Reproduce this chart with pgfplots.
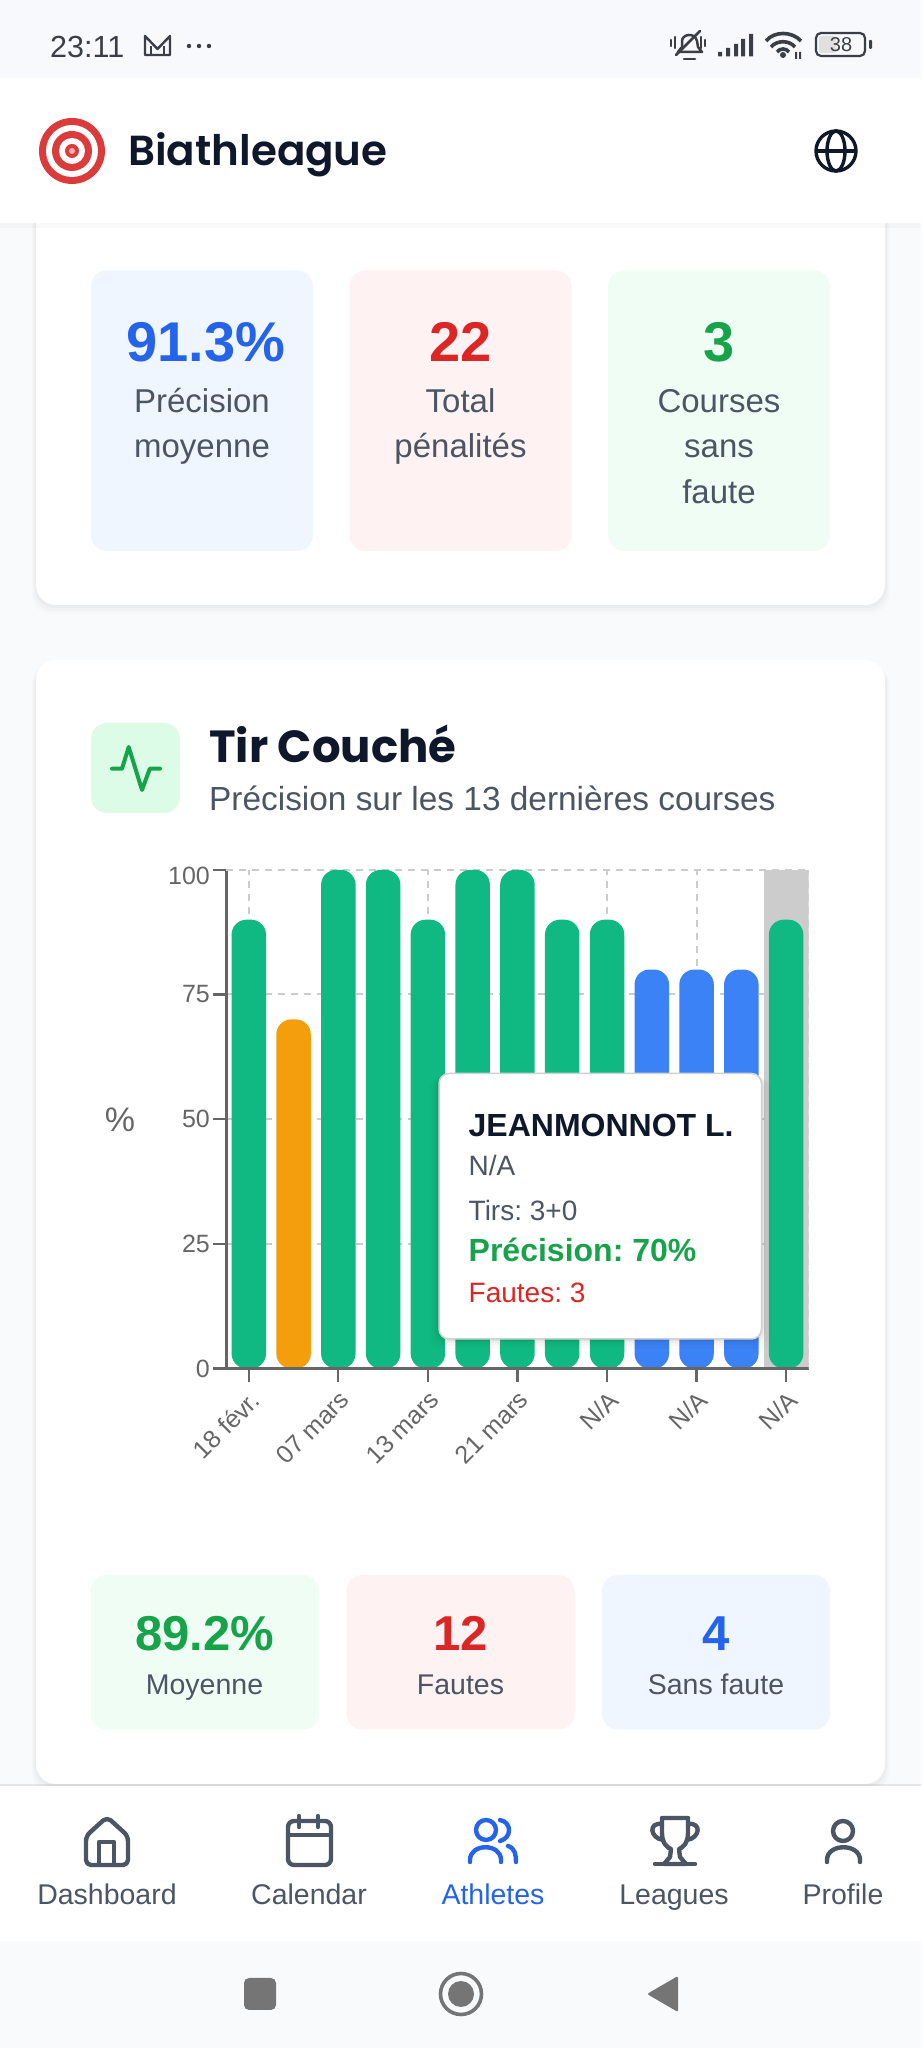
\documentclass[border=0pt]{standalone}
\usepackage{fontspec}
\usepackage{pgfplots}
\pgfplotsset{compat=1.18}
\setmainfont{Liberation Sans}
\newfontfamily\pop{Poppins}
\newfontfamily\popsb{Poppins SemiBold}
\newcommand{\fs}[1]{\fontsize{#1}{#1}\selectfont}
\definecolor{pagebg}{HTML}{F8FAFC}
\definecolor{statbg}{HTML}{F8F9FD}
\definecolor{ink}{HTML}{0F172A}
\definecolor{slate}{HTML}{4B5563}
\definecolor{cblue}{HTML}{2563EB}
\definecolor{cred}{HTML}{DC2626}
\definecolor{cgreen}{HTML}{16A34A}
\definecolor{lblue}{HTML}{EFF6FF}
\definecolor{lred}{HTML}{FEF2F2}
\definecolor{lgreen}{HTML}{F0FDF4}
\definecolor{iconbg}{HTML}{DCFCE7}
\definecolor{bgreen}{HTML}{10B981}
\definecolor{bamber}{HTML}{F59E0B}
\definecolor{bblue}{HTML}{3B82F6}
\definecolor{axgray}{HTML}{666666}
\definecolor{gridc}{HTML}{CCCCCC}
\definecolor{navgray}{HTML}{757575}
\definecolor{stat}{HTML}{3A3F47}
\definecolor{target}{HTML}{DC3B3B}
\begin{document}
\frenchspacing
\begin{tikzpicture}
\useasboundingbox (0,0) rectangle (921pt,2048pt);
\begin{scope}[x=1pt,y=-1pt,shift={(0pt,2048pt)}]
\fill[pagebg] (0,0) rectangle (921,2048);
\fill[statbg] (0,0) rectangle (921,78);
% cards
\foreach \o/\g in {0.012/9,0.018/6,0.025/3}{
  \fill[black,opacity=\o,rounded corners=20] (36-\g*0.5,150) rectangle (885+\g*0.5,605+\g);
  \fill[black,opacity=\o,rounded corners=20] (36-\g*0.5,664) rectangle (885+\g*0.5,1784+\g);
}
\fill[white,rounded corners=20] (36,150) rectangle (885,605);
\fill[white,rounded corners=20] (36,660) rectangle (885,1784);
% header
\fill[black,opacity=0.025] (0,223) rectangle (921,228);
\fill[white] (0,78) rectangle (921,223);
% status bar
\node[anchor=base west,inner sep=0,text=stat] at (50,58) {\fs{30.5}23:11};
\draw[stat,line width=2.4,line join=round] (145,55) -- (145,36) -- (157.5,49) -- (170,36) -- (170,55) -- cycle;
\draw[stat,line width=2.2] (151,55) -- (151,46) (164,55) -- (164,46);
\foreach \x in {189,199,209} \fill[stat] (\x,46) circle (2.2);
% muted bell
\begin{scope}[stat,line width=2.5,line cap=round,line join=round]
\draw (678,52) -- (682,47) -- (682,41) .. controls (682,34) and (695,32) .. (697,41) -- (698,47) -- (702,52) -- cycle;
\draw (684,59) -- (695,59);
\draw (676,55) -- (700,31);
\draw (671,40) -- (671,46) (675,37) -- (675,48) (705,40) -- (705,46) (701,37) -- (701,48);
\end{scope}
\fill[stat] (718,52) rectangle (722,56.5) (726,48) rectangle (730,56.5) (734,44) rectangle (738,56.5) (741,39) rectangle (745,56.5) (749,34) rectangle (753,56.5);
\begin{scope}[stat,line width=3.6]
\draw (766,41) .. controls (774,31) and (792,31) .. (801,41);
\draw (771,47) .. controls (777,40) and (789,40) .. (795,47);
\draw (777,52) .. controls (780,48) and (786,48) .. (789,52);
\fill (783,55) circle (3);
\end{scope}
\fill[stat] (795,52) rectangle (797,59) (799,52) rectangle (801,59);
\fill[black!12,rounded corners=2] (819,36) rectangle (836,53);
\draw[stat,line width=2.2,rounded corners=5] (816,33) rectangle (865,56);
\fill[stat,rounded corners=1] (869,40) rectangle (872,49);
\node[text=stat,inner sep=0] at (841,45) {\fs{20}38};
% header logo
\fill[target] (72,151) circle (33);
\fill[white] (72,151) circle (26);
\fill[target] (72,151) circle (20);
\fill[white] (72,151) circle (13);
\fill[target] (72,151) circle (7);
\fill[white!60!target] (72,151) circle (3);
\node[anchor=base west,inner sep=0,text=ink] at (128,166) {\popsb\fs{42}Biathleague};
\begin{scope}[ink,line width=3.4]
\draw (836,151) circle (20);
\draw (816,151) -- (856,151);
\draw (836,151) ellipse (9 and 20);
\end{scope}
% KPI boxes
\fill[lblue,rounded corners=16] (91,270.5) rectangle (313,551);
\fill[lred,rounded corners=16] (349.5,270.5) rectangle (571.5,551);
\fill[lgreen,rounded corners=16] (608,270.5) rectangle (830,551);
\node[anchor=base,inner sep=0,text=cblue] at (206,362) {\bfseries\fs{56}91.3\%};
\node[anchor=base,inner sep=0,text=cred] at (460.5,362) {\bfseries\fs{56}22};
\node[anchor=base,inner sep=0,text=cgreen] at (719,362) {\bfseries\fs{56}3};
\foreach \x/\y/\t in {202/412.5/Précision,202/458/moyenne,460.5/412.5/Total,460.5/458/pénalités,719/412.5/Courses,719/458/sans,719/503.5/faute}
  \node[anchor=base,inner sep=0,text=slate] at (\x,\y) {\fs{33}\t};
% card head
\fill[iconbg,rounded corners=16] (91,723) rectangle (180,813);
\draw[cgreen,line width=4,line cap=round,line join=round] (112,768.7) -- (122,768.7) -- (128.7,747) -- (142,790) -- (149.8,768.7) -- (160,768.7);
\node[anchor=base west,inner sep=0,text=ink] at (209,763) {\pop\bfseries\fs{45}Tir Couché};
\node[anchor=base west,inner sep=0,text=slate] at (209,810.5) {\fs{33.4}Précision sur les 13 dernières courses};
\node[text=axgray,inner sep=0] at (120,1120) {\fs{34}\%};
% stat boxes
\fill[lgreen,rounded corners=16] (90.5,1575) rectangle (319,1729.5);
\fill[lred,rounded corners=16] (346.5,1575) rectangle (574.5,1729.5);
\fill[lblue,rounded corners=16] (602,1575) rectangle (830,1729.5);
\node[anchor=base,inner sep=0,text=cgreen] at (204.5,1651) {\bfseries\fs{49}89.2\%};
\node[anchor=base,inner sep=0,text=cred] at (460.5,1651) {\bfseries\fs{49}12};
\node[anchor=base,inner sep=0,text=cblue] at (716,1651) {\bfseries\fs{49}4};
\node[anchor=base,inner sep=0,text=slate] at (204.5,1695) {\fs{28.5}Moyenne};
\node[anchor=base,inner sep=0,text=slate] at (460.5,1695) {\fs{28.5}Fautes};
\node[anchor=base,inner sep=0,text=slate] at (716,1695) {\fs{28.5}Sans faute};
\end{scope}

\begin{axis}[
  at={(226.4pt,679.4pt)}, anchor=south west,
  scale only axis, width=582.1pt, height=498.8pt,
  xmin=-0.5, xmax=12.5, ymin=0, ymax=100,
  y coord trafo/.code={\pgfmathparse{#1+20}},
  y coord inv trafo/.code={\pgfmathparse{#1-20}},
  axis x line=bottom, axis y line=left,
  axis line style={-,axgray,line width=2.4pt},
  tick style={axgray,line width=2.2pt},
  major tick length=13pt,
  tick align=outside,
  xtick={0,2,4,6,8,10,12},
  xticklabels={18 févr.,07 mars,13 mars,21 mars,N/A,N/A,N/A},
  ytick={0,25,50,75},
  extra y ticks={100},
  extra y tick style={grid=major,yticklabel style={yshift=-6pt}},
  /pgf/number format/assume math mode=true,
  /pgf/number format/precision=0,
  grid=major,
  grid style={gridc,line width=2pt,dash pattern=on 7pt off 6pt},
  ticklabel style={font=\fs{25},text=axgray},
  x tick label style={rotate=45,anchor=north east,xshift=-2pt,yshift=-2pt},
  ybar, bar width=34.5pt,
]
\addplot[ybar,bar shift=0pt,bar width=44.78pt,fill=gridc,draw=none] coordinates {(12,100)};
\addplot[ybar,bar shift=0pt,fill=bgreen,draw=none,rounded corners=15pt] coordinates {(0,90)(2,100)(3,100)(4,90)(5,100)(6,100)(7,90)(8,90)(12,90)};
\addplot[ybar,bar shift=0pt,fill=bamber,draw=none,rounded corners=15pt] coordinates {(1,70)};
\addplot[ybar,bar shift=0pt,fill=bblue,draw=none,rounded corners=15pt] coordinates {(9,80)(10,80)(11,80)};
\draw[gridc,line width=2pt,dash pattern=on 7pt off 6pt] (axis cs:12.5,0) -- (axis cs:12.5,100);
\draw[axgray,line width=2.4pt] (axis cs:-0.5,0) -- (axis cs:12.5,0);
\end{axis}

\begin{scope}[x=1pt,y=-1pt,shift={(0pt,2048pt)}]
% tooltip
\foreach \o/\g in {0.015/10,0.02/7,0.03/4,0.05/2}
  \fill[black,opacity=\o,rounded corners=12] (439-\g,1073+\g*0.5) rectangle (761.5+\g,1339+\g);
\filldraw[fill=white,draw=black!18,line width=1.5,rounded corners=10] (439,1073.5) rectangle (761.5,1339);
\node[anchor=base west,inner sep=0,text=ink] at (468.5,1137) {\bfseries\fs{32}JEANMONNOT L.};
\node[anchor=base west,inner sep=0,text=slate] at (468.5,1176) {\fs{28}N/A};
\node[anchor=base west,inner sep=0,text=slate] at (468.5,1220.5) {\fs{28}Tirs: 3+0};
\node[anchor=base west,inner sep=0,text=cgreen] at (468.5,1261.5) {\bfseries\fs{32}Précision: 70\%};
\node[anchor=base west,inner sep=0,text=cred] at (468.5,1303) {\fs{28}Fautes: 3};
% bottom nav
\fill[black,opacity=0.08] (0,1784) rectangle (921,1786);
\fill[white] (0,1786) rectangle (921,1941);
\foreach \x/\t/\c in {107/Dashboard/slate,309/Calendar/slate,493/Athletes/cblue,674/Leagues/slate,843/Profile/slate}
  \node[anchor=base,inner sep=0,text=\c] at (\x,1905) {\fs{28.5}\t};
\begin{scope}[slate,line width=4.4,line cap=round,line join=round]
% home
\draw[rounded corners=5] (86,1836) -- (107,1817) -- (128,1836) -- (128,1865) -- (86,1865) -- cycle;
\draw (99,1865) -- (99,1842) -- (114,1842) -- (114,1865);
% calendar
\draw[rounded corners=6] (288,1821) rectangle (331,1865);
\draw (288,1835) -- (331,1835);
\draw (299,1816) -- (299,1827) (318,1816) -- (318,1827);
% trophy
\draw (662,1818) -- (688,1818) -- (688,1833) .. controls (688,1844) and (682,1848) .. (679,1849) -- (680,1857) -- (686,1864) -- (664,1864) -- (670,1857) -- (671,1849) .. controls (668,1848) and (662,1844) .. (662,1833) -- cycle;
\draw (662,1824) .. controls (648,1822) and (650,1838) .. (663,1840);
\draw (688,1824) .. controls (702,1822) and (700,1838) .. (687,1840);
\draw (655,1864) -- (695,1864);
% profile
\draw (843,1831) circle (10);
\draw (827,1862) -- (827,1860) .. controls (827,1843) and (860,1843) .. (860,1860) -- (860,1862);
\end{scope}
\begin{scope}[cblue,line width=4.4,line cap=round,line join=round]
\draw (486,1830) circle (10);
\draw (500,1820) .. controls (512,1822) and (512,1838) .. (500,1841);
\draw (470,1862) -- (470,1860) .. controls (470,1843) and (501,1843) .. (501,1860) -- (501,1862);
\draw (508,1846) .. controls (515,1848) and (516,1855) .. (516,1862);
\end{scope}
% system nav
\fill[navgray,rounded corners=5] (244,1978) rectangle (276,2010);
\draw[navgray,line width=3.6] (461,1994) circle (20.5);
\fill[navgray] (461,1994) circle (13);
\fill[navgray,rounded corners=2] (678,1976) -- (647,1994) -- (678,2012) -- cycle;
\end{scope}
\end{tikzpicture}
\end{document}
